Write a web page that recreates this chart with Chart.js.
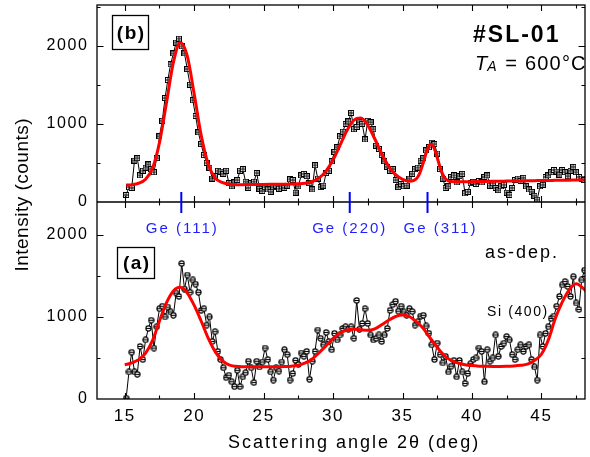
<!DOCTYPE html>
<html>
<head>
<meta charset="utf-8">
<script src="https://cdn.jsdelivr.net/npm/chart.js@4.4.1/dist/chart.umd.min.js"></script>
<style>
html,body{margin:0;padding:0;background:#fff;}
#wrap{position:relative;width:590px;height:457px;}
canvas{display:block;}
</style>
</head>
<body>
<div id="wrap"><canvas id="c" width="590" height="457"></canvas></div>
<script>
// ---------------- data ----------------
const scanStart = 15.1;   // first measured angle (deg)
const scanStep = 0.2;     // angular step (deg)

// (b) annealed at 600 C : measured intensity (counts)
const annealedCounts = [
 90,190,180,530,560,340,400,440,480,420,
 380,560,840,1040,1330,1560,1760,1900,2040,2090,
 1990,1900,1700,1500,1300,1100,890,740,600,500,
 440,300,330,400,390,360,400,240,200,250,
 280,400,420,260,180,240,260,370,170,140,
 190,160,130,190,210,170,200,180,210,290,
 280,120,200,340,360,330,240,160,470,300,
 190,210,370,400,520,640,700,840,900,1000,
 1030,1140,930,960,1020,1000,800,1040,1020,930,
 720,680,600,520,450,400,420,280,190,230,
 200,210,300,360,420,440,530,560,660,700,
 760,740,620,420,300,180,200,320,340,250,
 330,360,110,130,240,260,230,270,250,320,
 340,210,240,180,150,200,220,120,90,180,
 280,300,270,310,200,160,130,80,30,200,
 220,320,340,380,410,390,350,410,380,330,
 400,450,380,320,300,280
];

// (a) as-deposited : measured intensity (counts)
const asDepCounts = [
 10,330,570,330,300,640,480,720,860,960,
 620,880,1100,1130,1000,1120,1060,1020,1290,1250,
 1650,1340,1510,1300,1450,1400,1300,1080,1100,900,
 1000,700,820,580,480,380,260,290,210,150,
 350,150,270,320,460,380,200,460,390,450,
 620,480,330,230,380,340,450,600,540,230,
 310,470,420,560,520,580,240,460,580,840,
 740,660,810,700,600,800,720,780,860,880,
 850,880,740,1200,850,920,1100,920,780,720,
 740,780,700,780,860,1080,1150,1190,1070,1130,
 1060,1020,1100,1065,900,940,1010,1020,890,800,
 660,480,680,540,440,520,330,400,470,270,
 470,330,190,310,430,480,500,620,580,210,
 600,460,500,780,520,640,680,760,720,540,
 480,600,660,580,640,660,480,390,230,780,
 640,800,880,980,1010,1130,1250,1390,1430,1370,
 1250,1490,1170,1090,1450,1570
];

// fitted curves (red)
const fitTopAngles = [15.1,15.5,16,16.5,17,17.5,18,18.5,19,19.5,20,20.5,21,21.5,22,22.5,23,23.5,24,24.5,25,25.5,26,26.5,27,27.5,28,28.5,29,29.5,30,30.5,31,31.5,32,32.5,33,33.5,34,34.5,35,35.5,36,36.25,36.5,36.75,37,37.25,37.5,37.75,38,38.25,38.5,39,39.5,40,40.5,41,41.5,42,42.5,43,43.5,44,44.5,45,45.5,46,46.5,47,47.5,48,48.5];
const fitTopValues = [217,222,240,292,433,760,1265,1785,2041,1868,1380,855,490,309,250,228,222,222,223,224,225,226,227,228,230,233,241,262,309,398,540,726,915,1048,1073,981,809,617,457,349,290,265,297,373,504,652,736,699,566,420,320,274,262,258,259,260,262,263,265,266,268,269,270,272,273,274,275,277,278,279,281,282,283];

const fitBotAngles = [15,15.5,16,16.5,17,17.5,18,18.5,19,19.5,20,20.5,21,21.5,22,22.5,23,23.5,24,24.5,25,25.5,26,26.5,27,27.5,28,28.5,29,29.5,30,30.5,31,31.5,32,32.5,33,33.5,34,34.5,35,35.5,36,36.5,37,37.5,38,38.5,39,39.5,40,40.5,41,41.5,42,42.5,43,43.5,44,44.5,45,45.5,46,46.5,47,47.5,48,48.5];
const fitBotValues = [415,440,480,560,715,950,1170,1315,1360,1290,1140,950,745,580,470,415,398,393,392,392,392,392,393,395,400,412,440,488,565,650,740,805,840,850,843,838,855,905,960,1005,1024,1005,940,860,740,630,530,470,438,418,407,400,398,397,397,398,402,410,425,470,545,720,980,1180,1330,1405,1350,1250];

// Ge reflections
const gePeakAngles = [19.07, 31.2, 36.8];
const gePeakLabels = ['Ge (111)', 'Ge (220)', 'Ge (311)'];

// axes
const xRange = [13, 48.14];
const xTickLabels = [15, 20, 25, 30, 35, 40, 45];
const yTopRange = [0, 2520];
const yBotRange = [0, 2400];
const yTickLabels = [0, 1000, 2000];

// ---------------- helpers ----------------
const FONT = '"Liberation Sans", Arial, Helvetica, sans-serif';
const toXY = (xs, ys) => ys.map((v, i) => ({x: xs[i], y: v}));
const scanAngles = annealedCounts.map((_, i) => +(scanStart + scanStep * i).toFixed(2));

function squareMarker() {
  const c = document.createElement('canvas'); c.width = 6; c.height = 6;
  const g = c.getContext('2d');
  g.fillStyle = '#fff'; g.fillRect(0.5, 0.5, 5, 5);
  g.strokeStyle = '#000'; g.lineWidth = 1;
  g.strokeRect(0.5, 0.5, 5, 5);
  g.beginPath(); g.moveTo(0.5, 3); g.lineTo(5.5, 3); g.moveTo(3, 0.5); g.lineTo(3, 5.5); g.stroke();
  return c;
}
function circleMarker() {
  const c = document.createElement('canvas'); c.width = 7; c.height = 7;
  const g = c.getContext('2d');
  g.beginPath(); g.arc(3.5, 3.5, 2.6, 0, Math.PI * 2);
  g.fillStyle = '#fff'; g.fill();
  g.strokeStyle = '#000'; g.lineWidth = 1.1; g.stroke();
  g.beginPath(); g.moveTo(1, 3.5); g.lineTo(6, 3.5); g.stroke();
  return c;
}

function drawText(ctx, s, x, y, size, opts = {}) {
  ctx.save();
  ctx.font = (opts.style || '') + ' ' + (opts.weight || 'normal') + ' ' + size + 'px ' + FONT;
  ctx.fillStyle = opts.color || '#000';
  ctx.textAlign = opts.align || 'left';
  ctx.textBaseline = 'alphabetic';
  ctx.letterSpacing = (opts.spacing || 0) + 'px';
  let dx = 0;
  if (ctx.textAlign === 'center') dx = (opts.spacing || 0) / 2;
  ctx.fillText(s, x + dx, y);
  const w = ctx.measureText(s).width;
  ctx.restore();
  return w;
}

const spacingPlugin = {
  id: 'spacing',
  beforeDraw(chart) { chart.ctx.letterSpacing = '1.6px'; }
};

const framePlugin = {
  id: 'frame',
  afterDraw(chart) {
    const ctx = chart.ctx;
    ctx.letterSpacing = '0px';
    const xs = chart.scales.x, yt = chart.scales.yTop, yb = chart.scales.yBot;
    const L = xs.left, R = xs.right, T = yt.top, M = yt.bottom, B = yb.bottom;
    ctx.save();
    ctx.strokeStyle = '#000';
    ctx.lineWidth = 1.3;
    ctx.strokeRect(L, T, R - L, B - T);
    ctx.beginPath(); ctx.moveTo(L, M); ctx.lineTo(R, M); ctx.stroke();

    ctx.lineWidth = 1.1;
    ctx.beginPath();
    // x ticks every 2.5 deg (major at labels)
    for (let v = xTickLabels[0]; v <= xRange[1]; v += 2.5) {
      const px = Math.round(xs.getPixelForValue(v)) + 0.5;
      const major = xTickLabels.includes(v);
      const len = major ? 6 : 3.5;
      ctx.moveTo(px, B); ctx.lineTo(px, B - len);
      ctx.moveTo(px, M); ctx.lineTo(px, M - len);
      ctx.moveTo(px, M); ctx.lineTo(px, M + len);
      ctx.moveTo(px, T); ctx.lineTo(px, T + len);
    }
    // y ticks every 500
    [[yt, yTopRange], [yb, yBotRange]].forEach(([sc, rg]) => {
      for (let v = 500; v < rg[1]; v += 500) {
        const py = Math.round(sc.getPixelForValue(v)) + 0.5;
        const major = yTickLabels.includes(v);
        const len = major ? 6.5 : 3.5;
        ctx.moveTo(L, py); ctx.lineTo(L + len, py);
        ctx.moveTo(R, py); ctx.lineTo(R - len, py);
      }
    });
    ctx.stroke();

    // Ge reflection markers
    ctx.strokeStyle = '#0000ff';
    ctx.lineWidth = 2;
    ctx.beginPath();
    gePeakAngles.forEach(a => {
      const px = xs.getPixelForValue(a);
      ctx.moveTo(px, M - 10); ctx.lineTo(px, M + 11);
    });
    ctx.stroke();
    const geOffsets = [0, -1, 12];
    gePeakAngles.forEach((a, i) => {
      const px = xs.getPixelForValue(a) + geOffsets[i];
      drawText(ctx, gePeakLabels[i], px, M + 31, 15, {align: 'center', color: '#1f1fff', spacing: 2});
    });

    // panel labels
    ctx.strokeStyle = '#000';
    ctx.lineWidth = 1.3;
    ctx.strokeRect(112.5, 15.5, 36, 34);
    drawText(ctx, '(b)', 130.5, 39, 19, {align: 'center', weight: 'bold', spacing: 1.5});
    ctx.strokeRect(117.5, 247.5, 37, 31);
    drawText(ctx, '(a)', 136, 269, 19, {align: 'center', weight: 'bold', spacing: 1.5});

    drawText(ctx, '#SL-01', 473, 42, 23, {weight: 'bold', spacing: 2});
    let x0 = 475;
    x0 += drawText(ctx, 'T', x0, 70, 20, {style: 'italic', spacing: 1});
    x0 += drawText(ctx, 'A', x0 - 1, 71, 14, {style: 'italic', spacing: 1});
    drawText(ctx, ' = 600°C', x0, 70, 20, {spacing: 1.2});

    drawText(ctx, 'as-dep.', 485, 258, 18, {spacing: 2});
    drawText(ctx, 'Si (400)', 487, 316, 14, {spacing: 1.6});

    // axis titles
    drawText(ctx, 'Scattering angle 2θ (deg)', 228, 448, 18, {spacing: 2});
    ctx.save();
    ctx.translate(28, 195);
    ctx.rotate(-Math.PI / 2);
    drawText(ctx, 'Intensity (counts)', 0, 0, 19, {align: 'center', spacing: 0.5});
    ctx.restore();
    ctx.restore();
  }
};

const yAxisCommon = (range) => ({
  type: 'linear',
  position: 'left',
  stack: 'panels',
  stackWeight: 1,
  min: range[0], max: range[1],
  offset: false,
  grid: {display: false, drawTicks: false},
  border: {display: false},
  ticks: {
    font: {family: FONT, size: 16},
    color: '#000',
    padding: 8.5,
    autoSkip: false,
    callback: v => String(v)
  },
  afterBuildTicks(sc) { sc.ticks = yTickLabels.map(v => ({value: v})); },
  afterFit(sc) { sc.width = 97; sc.paddingTop = 0; sc.paddingBottom = 0; }
});

new Chart(document.getElementById('c'), {
  type: 'line',
  data: {
    datasets: [
      {
        label: 'fit (b)', yAxisID: 'yTop', order: 0,
        data: toXY(fitTopAngles, fitTopValues),
        borderColor: '#ff0000', borderWidth: 3, pointRadius: 0,
        cubicInterpolationMode: 'monotone', fill: false
      },
      {
        label: 'fit (a)', yAxisID: 'yBot', order: 0,
        data: toXY(fitBotAngles, fitBotValues),
        borderColor: '#ff0000', borderWidth: 3, pointRadius: 0,
        cubicInterpolationMode: 'monotone', fill: false
      },
      {
        label: '#SL-01 600C', yAxisID: 'yTop', order: 1,
        data: toXY(scanAngles, annealedCounts),
        borderColor: '#000', borderWidth: 1, tension: 0,
        pointStyle: squareMarker(), pointRadius: 3
      },
      {
        label: 'as-dep.', yAxisID: 'yBot', order: 1,
        data: toXY(scanAngles, asDepCounts),
        borderColor: '#000', borderWidth: 1, tension: 0,
        pointStyle: circleMarker(), pointRadius: 3
      }
    ]
  },
  options: {
    responsive: false,
    animation: false,
    devicePixelRatio: 1,
    layout: {padding: {top: 5, right: 1, left: 0, bottom: 0}},
    plugins: {legend: {display: false}, tooltip: {enabled: false}, title: {display: false}},
    scales: {
      x: {
        type: 'linear', position: 'bottom',
        min: xRange[0], max: xRange[1],
        grid: {display: false, drawTicks: false},
        border: {display: false},
        ticks: {font: {family: FONT, size: 17}, color: '#000', padding: 7, maxRotation: 0, autoSkip: false, callback: v => String(v)},
        afterBuildTicks(sc) { sc.ticks = xTickLabels.map(v => ({value: v})); },
        afterFit(sc) { sc.height = 58; sc.paddingLeft = 0; sc.paddingRight = 0; }
      },
      yBot: yAxisCommon(yBotRange),
      yTop: yAxisCommon(yTopRange)
    }
  },
  plugins: [spacingPlugin, framePlugin]
});
</script>
</body>
</html>
